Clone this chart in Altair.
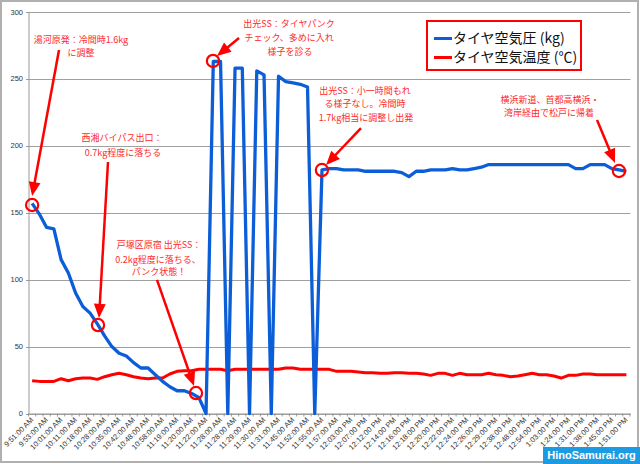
import json
import math
import altair as alt
import pandas as pd

# ---------------- data ----------------
time_labels = [
    "9:51:00 AM", "9:53:00 AM", "10:01:00 AM", "10:11:00 AM", "10:18:00 AM",
    "10:28:00 AM", "10:35:00 AM", "10:42:00 AM", "10:48:00 AM", "10:58:00 AM",
    "11:19:00 AM", "11:20:00 AM", "11:22:00 AM", "11:28:00 AM", "11:28:00 AM",
    "11:29:00 AM", "11:30:00 AM", "11:31:00 AM", "11:45:00 AM", "11:52:00 AM",
    "11:55:00 AM", "11:57:00 AM", "12:03:00 PM", "12:07:00 PM", "12:12:00 PM",
    "12:14:00 PM", "12:16:00 PM", "12:18:00 PM", "12:20:00 PM", "12:22:00 PM",
    "12:24:00 PM", "12:26:00 PM", "12:29:00 PM", "12:38:00 PM", "12:48:00 PM",
    "12:54:00 PM", "1:03:00 PM", "1:24:00 PM", "1:31:00 PM", "1:38:00 PM",
    "1:45:00 PM", "1:51:00 PM",
]

pressure = [
    157, 149, 139, 138, 115, 105, 90, 80, 75, 67,
    58, 50, 45, 43, 38, 34, 34, 29, 24, 20,
    17, 17, 15, 12, 0, 263, 263, 0, 258, 258,
    0, 256, 253, 0, 252, 248, 247, 246, 244, 0,
    182, 183, 183, 182, 182, 182, 181, 181, 181, 181,
    181, 180, 177, 181, 181, 182, 182, 182, 183, 182,
    182, 183, 184, 186, 186, 186, 186, 186, 186, 186,
    186, 186, 186, 186, 186, 183, 183, 186, 186, 186,
    183, 182, 181,
]

temperature = [
    24.5, 24, 24, 24, 26, 24.5, 26, 26.5, 26.5, 25.5,
    27.5, 29, 30, 29, 27.5, 26.5, 26, 26.5, 26.5, 29.5,
    31.5, 32, 32, 33, 33, 33, 33, 32, 33, 33,
    33, 33, 33, 33, 33, 34, 34, 33, 33, 33,
    33, 33, 31.5, 31.5, 31.5, 31, 30.5, 30.5, 30, 30,
    30.5, 30.5, 30, 30, 29.5, 28.5, 30, 30, 28.5, 30,
    29, 29, 29, 30, 29, 28.5, 27.5, 28, 29, 30,
    29, 29, 28, 26.5, 28.5, 28.5, 29.5, 29.5, 29, 29,
    29, 29, 29,
]

series_names = ["タイヤ空気圧 (kg)", "タイヤ空気温度 (℃)"]
series_colors = ["#0b5ed7", "#ff0000"]

ann_text = [
    "湯河原発：冷間時1.6kg", "に調整",
    "西湘バイパス出口：", "0.7kg程度に落ちる",
    "戸塚区原宿 出光SS：", "0.2kg程度に落ちる、", "パンク状態！",
    "出光SS：タイヤパンク", "チェック、多めに入れ", "様子を診る",
    "出光SS：小一時間もれ", "る様子なし。冷間時", "1.7kg相当に調整し出発",
    "横浜新道、首都高横浜・", "湾岸経由で松戸に帰着",
]
ann_x = [6.74, 6.74, 12.40, 12.54, 17.51, 17.37, 17.51, 35.45, 35.45, 35.59,
         45.93, 45.93, 46.07, 71.46, 71.32]
ann_y = [279.1, 269.4, 205.9, 194.7, 125.9, 114.7, 105.7, 291.0, 280.6, 270.1,
         241.0, 230.9, 220.8, 234.3, 224.2]

arrow_from_x = [3.71, 10.47, 17.23, 28.55, 45.38, 77.95]
arrow_from_y = [271.6, 187.9, 99.8, 280.6, 213.3, 219.3]
arrow_to_x = [0.0, 9.23, 22.34, 25.51, 40.55, 80.43]
arrow_to_y = [162.5, 71.4, 20.5, 267.1, 185.7, 187.2]

circle_x = [0, 9.09, 22.61, 24.96, 39.99, 80.98]
circle_y = [155.8, 66.1, 15.3, 263.4, 181.9, 181.2]

watermark = "HinoSamurai.org"

# ---------------- layout ----------------
W, H = 601.5, 401.5
N = len(pressure)
X_DOMAIN = [-0.5, N - 0.5]
Y_DOMAIN = [0, 300]
px_x = W / (X_DOMAIN[1] - X_DOMAIN[0])
px_y = H / (Y_DOMAIN[1] - Y_DOMAIN[0])

FONT_JP = "Noto Sans CJK JP"
FONT_LAT = "Liberation Sans"
ANN_RED = "#ff2a2a"

label_arr = "[" + ",".join(json.dumps(s) for s in time_labels) + "]"

x_axis = alt.Axis(
    title=None,
    values=list(range(0, N, 2)),
    labelExpr=label_arr + "[round(datum.value/2)]",
    labelAngle=-45, labelAlign="right", labelBaseline="middle",
    labelPadding=5, labelFontSize=7.5, labelFont=FONT_LAT, labelColor="#333333",
    labelOverlap=False, labelFlush=False, labelBound=False,
    ticks=False, grid=False, domainColor="#999999", domainWidth=1,
)
y_axis = alt.Axis(
    title=None, values=list(range(0, 301, 50)),
    labelFontSize=7.5, labelFont=FONT_LAT, labelColor="#333333", labelPadding=3,
    tickSize=3, tickColor="#999999", domainColor="#999999",
    grid=True, gridColor="#a0a0a0", gridWidth=1,
)
x_scale = alt.Scale(domain=X_DOMAIN, nice=False, zero=False)
y_scale = alt.Scale(domain=Y_DOMAIN, nice=False, zero=False)


def X(field):
    return alt.X(f"{field}:Q", scale=x_scale, axis=x_axis)


def Y(field):
    return alt.Y(f"{field}:Q", scale=y_scale, axis=y_axis)


idx = list(range(N))
series_df = pd.DataFrame({"idx": idx, "pressure": pressure, "temperature": temperature})

temp_line = alt.Chart(series_df).mark_line(
    color=series_colors[1], strokeWidth=3, strokeJoin="round"
).encode(x=X("idx"), y=Y("temperature"))

press_line = alt.Chart(series_df).mark_line(
    color=series_colors[0], strokeWidth=3.3, strokeJoin="round"
).encode(x=X("idx"), y=Y("pressure"))

# tick marks between categories
tick_df = pd.DataFrame({"b": [i - 0.5 for i in range(N + 1)]})
ticks = alt.Chart(tick_df).mark_rule(color="#999999", strokeWidth=1).encode(
    x=X("b"), y=alt.value(H), y2=alt.value(H + 3)
)

# annotations text
ann_df = pd.DataFrame({"ax": ann_x, "ay": ann_y, "t": ann_text})
ann = alt.Chart(ann_df).mark_text(
    font=FONT_JP, fontSize=9, color=ANN_RED, align="center", baseline="middle"
).encode(x=X("ax"), y=Y("ay"), text="t:N")

# arrows
HEAD = 12.0
rows = []
for x0, y0, x1, y1 in zip(arrow_from_x, arrow_from_y, arrow_to_x, arrow_to_y):
    dx = (x1 - x0) * px_x
    dy = -(y1 - y0) * px_y
    L = math.hypot(dx, dy)
    ux, uy = dx / L, dy / L
    ang = math.degrees(math.atan2(dx, -dy)) % 360
    xe = x1 - ux * HEAD / px_x
    ye = y1 + uy * HEAD / px_y
    rows.append({"x0": x0, "y0": y0, "xe": xe, "ye": ye, "x1": x1, "y1": y1, "ang": ang})
arrow_df = pd.DataFrame(rows)

shafts = alt.Chart(arrow_df).mark_rule(color="#ff0000", strokeWidth=2.5).encode(
    x=X("x0"), y=Y("y0"), x2="xe:Q", y2="ye:Q"
)
heads = alt.Chart(arrow_df).mark_point(
    shape="M0,0 L-0.85,2 L0.85,2 Z", filled=True, color="#ff0000",
    size=196, opacity=1, strokeWidth=0
).encode(x=X("x1"), y=Y("y1"), angle=alt.Angle("ang:Q", scale=None))

circ_df = pd.DataFrame({"cx": circle_x, "cy": circle_y})
circles = alt.Chart(circ_df).mark_point(
    shape="circle", filled=False, color="#ff0000", size=150, strokeWidth=2.2, opacity=1
).encode(x=X("cx"), y=Y("cy"))

one = alt.Data(values=[{"k": 1}])

# legend (manual)
LX, LY = 398.5, 9
legend_box = alt.Chart(one).mark_rect(
    fill="white", stroke="#ff0000", strokeWidth=2
).encode(x=alt.value(LX), x2=alt.value(LX + 154), y=alt.value(LY), y2=alt.value(LY + 49))
legend_layers = [legend_box]
for k, (name, col) in enumerate(zip(series_names, series_colors)):
    yy = LY + 17.5 + 19 * k
    legend_layers.append(
        alt.Chart(one).mark_rule(color=col, strokeWidth=3).encode(
            x=alt.value(LX + 7), x2=alt.value(LX + 25), y=alt.value(yy)
        )
    )
    legend_layers.append(
        alt.Chart(one).mark_text(
            font=FONT_JP, fontSize=14, color="#111111", align="left", baseline="middle"
        ).encode(x=alt.value(LX + 26), y=alt.value(yy), text=alt.value(name))
    )

# frame and watermark
frame = alt.Chart(one).mark_rect(
    fill=None, fillOpacity=0, stroke="#b0b0b0", strokeWidth=2
).encode(x=alt.value(-27.5), x2=alt.value(609.5), y=alt.value(-11), y2=alt.value(450))
wm_box = alt.Chart(one).mark_rect(color="#1d9be2").encode(
    x=alt.value(514.5), x2=alt.value(611.5), y=alt.value(435), y2=alt.value(452)
)
wm_text = alt.Chart(one).mark_text(
    font=FONT_LAT, fontSize=11, fontWeight="bold", color="white",
    align="center", baseline="middle"
).encode(x=alt.value(563), y=alt.value(444), text=alt.value(watermark))

chart = alt.layer(
    frame, ticks, temp_line, press_line, shafts, heads, circles, ann,
    *legend_layers, wm_box, wm_text
).properties(
    width=W, height=H,
    padding={"left": 28.5, "top": 12, "right": 10, "bottom": 50.5},
    autosize=alt.AutoSizeParams(type="none"),
    background="white",
).configure_view(stroke=None)

chart.save("out.html", embed_options={"renderer": "svg", "actions": False})
